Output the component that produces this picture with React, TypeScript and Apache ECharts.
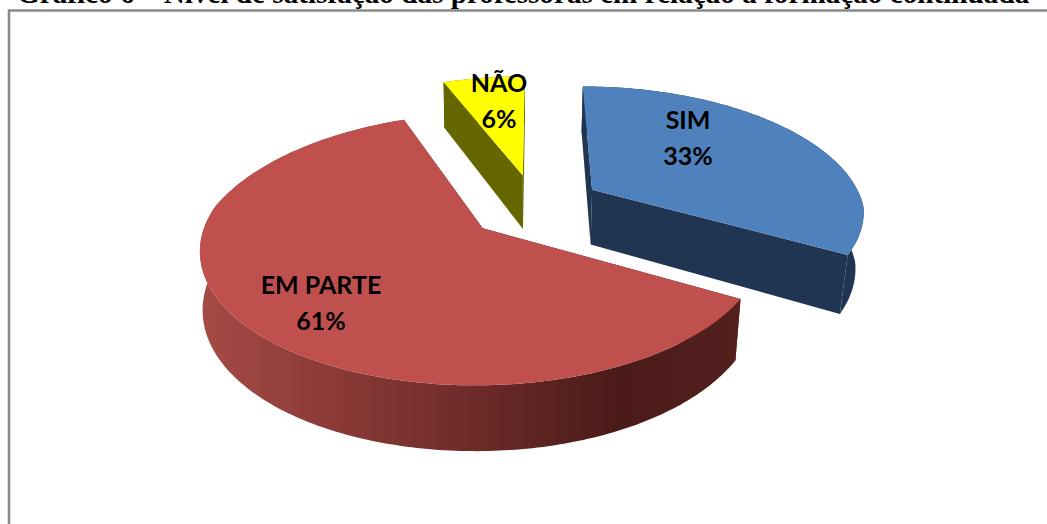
import React, { useEffect, useRef } from "react";
import * as echarts from "echarts";

const TITLE = "Gráfico 6 – Nível de satisfação das professoras em relação à formação continuada";
const categories = ["SIM", "EM PARTE", "NÃO"];
const percentValues = [33, 61, 6];

const topColors = ["#4F81BD", "#C0504D", "#FFFF00"];
const sideColors = ["#1F3552", "#4F1C1A", "#666600"];
const labelAnchors = [
  [688, 137],
  [321, 302],
  [499, 100],
];

const VX = 535, VY = 206, A = 272, B_BACK = 130, B_FRONT = 131;
const K_BACK = 0.2, K_FRONT = 0.15, EXPLODE = 0.25, THICK = 56;
const CONVERGE_LEFT = 0.992, CONVERGE_RIGHT = 0.975;

function scaleAt(y: number) {
  return y >= 0 ? 1 + K_FRONT * y : 1 / (1 - K_BACK * y);
}
function project(x: number, y: number, down: boolean): number[] {
  const s = scaleAt(y);
  const px = A * x * s;
  const py = (y >= 0 ? B_FRONT : B_BACK) * y * s;
  const c = px >= 0 ? CONVERGE_RIGHT : CONVERGE_LEFT;
  return down ? [VX + px * c, VY + py + THICK * s] : [VX + px, VY + py];
}

function renderSlice(params: any, api: any) {
  const i = params.dataIndex;
  const total = percentValues.reduce((a, b) => a + b, 0);
  let before = 0;
  for (let k = 0; k < i; k++) before += percentValues[k];
  const t0 = (before / total) * 2 * Math.PI;
  const t1 = ((before + api.value(0)) / total) * 2 * Math.PI;
  const mid = (t0 + t1) / 2;
  const ox = EXPLODE * Math.sin(mid);
  const oy = -EXPLODE * Math.cos(mid);
  const steps = Math.max(8, Math.round(((t1 - t0) * 180) / Math.PI));
  const arc: number[][] = [];
  for (let s = 0; s <= steps; s++) {
    const t = t0 + ((t1 - t0) * s) / steps;
    arc.push([ox + Math.sin(t), oy - Math.cos(t)]);
  }
  const top = (p: number[]) => project(p[0], p[1], false);
  const bot = (p: number[]) => project(p[0], p[1], true);
  const apex = [ox, oy];
  const face = [top(apex), ...arc.map(top)];
  const outer = [...arc.map(top), ...arc.slice().reverse().map(bot)];
  const edge = (p: number[]) => [top(apex), top(p), bot(p), bot(apex)];
  const sideFill: any =
    i === 1
      ? new echarts.graphic.LinearGradient(
          196, 0, 737, 0,
          [
            { offset: 0, color: "#A64B46" },
            { offset: 0.25, color: "#8B3A37" },
            { offset: 0.5, color: "#6E2C2A" },
            { offset: 0.78, color: "#4B1B19" },
            { offset: 1, color: "#53201E" },
          ],
          true
        )
      : sideColors[i];
  const poly = (points: number[][], fill: any) => ({
    type: "polygon",
    shape: { points },
    style: { fill, stroke: null },
    silent: true,
  });
  return {
    type: "group",
    children: [
      poly(edge(arc[0]), sideColors[i]),
      poly(edge(arc[arc.length - 1]), sideColors[i]),
      poly(outer, sideFill),
      poly(face, topColors[i]),
      {
        type: "text",
        x: labelAnchors[i][0],
        y: labelAnchors[i][1],
        silent: true,
        style: {
          text: categories[i] + "\n" + api.value(0) + "%",
          fill: "#000",
          font: "bold 25px Lato, sans-serif",
          lineHeight: 36,
          align: "center",
          verticalAlign: "middle",
        },
      },
    ],
  };
}

export default function App() {
  const ref = useRef<HTMLDivElement>(null);
  useEffect(() => {
    document.body.style.margin = "0";
    const chart = echarts.init(ref.current!, null, { renderer: "svg" });
    chart.setOption({
      animation: false,
      backgroundColor: "#fff",
      graphic: [
        {
          type: "polyline",
          silent: true,
          shape: { points: [[9, 530], [9, 10.5], [1050, 10.5]] },
          style: { stroke: "#8A8A8A", lineWidth: 2.6, fill: "none" },
        },
        {
          type: "text",
          x: 17,
          y: -6.9,
          silent: true,
          style: {
            text: TITLE,
            fill: "#000",
            font: "bold 29.2px 'Liberation Serif', serif",
            verticalAlign: "middle",
          },
        },
      ],
      series: [
        {
          type: "custom",
          coordinateSystem: "none",
          renderItem: renderSlice,
          data: percentValues.map((v) => [v]),
        },
      ],
    });
    return () => chart.dispose();
  }, []);
  return <div ref={ref} style={{ width: 1047, height: 524 }} />;
}
